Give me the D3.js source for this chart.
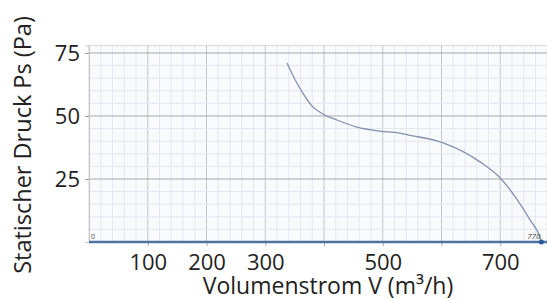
<!DOCTYPE html>
<html>
<head>
    <meta charset="UTF-8">
    <title>Kennlinie</title>
    <script src="https://d3js.org/d3.v7.min.js"></script>
    <style>
        body { margin: 0; background: #fff; }
        svg text { font-family: "Open Sans", "DejaVu Sans", sans-serif; }
    </style>
</head>
<body>
<div id="chart"></div>
<script>
    // curve data: volume flow (m3/h) and static pressure (Pa)
    var flow = [337, 351, 364, 381, 398, 422, 456, 495, 529, 541, 603, 666, 700, 729, 751, 768, 770];
    var pressure = [71, 64.3, 59.1, 53.6, 50.8, 48.4, 45.6, 44.0, 43.2, 42.6, 39.3, 31.7, 25.4, 16.7, 8.7, 1.6, 0];

    // tick labels
    var xTickLabels = [100, 200, 300, 500, 700];
    var yTickLabels = [25, 50, 75];

    var width = 547, height = 300;
    var plotLeft = 89, plotRight = 547.25, plotTop = 45.4, plotBottom = 242;
    var font = "Open Sans, DejaVu Sans, sans-serif";

    var svg = d3.select("#chart").append("svg")
        .attr("width", width)
        .attr("height", height);

    var x = d3.scaleLinear().domain([0, 780]).range([plotLeft, plotRight]);
    var y = d3.scaleLinear().domain([0, 78]).range([plotBottom, plotTop]);

    // plot background
    svg.append("rect")
        .attr("x", plotLeft).attr("y", plotTop)
        .attr("width", plotRight - plotLeft).attr("height", plotBottom - plotTop)
        .attr("fill", "#f9fafc")
        .attr("stroke", "#d6d6d6");

    // minor + major grid
    var grid = svg.append("g");
    grid.selectAll(".vx").data(d3.range(20, 780, 20)).enter().append("line")
        .attr("x1", d => x(d)).attr("x2", d => x(d))
        .attr("y1", plotTop).attr("y2", plotBottom)
        .attr("stroke", d => d % 100 === 0 ? "#c4c8cc" : "#e3e8ee")
        .attr("stroke-width", 1);
    grid.selectAll(".hy").data(d3.range(5, 78, 5)).enter().append("line")
        .attr("x1", plotLeft).attr("x2", plotRight)
        .attr("y1", d => y(d)).attr("y2", d => y(d))
        .attr("stroke", d => d % 25 === 0 ? "#a8a8a8" : "#e3e8ee")
        .attr("stroke-width", 1);

    // y axis ticks + labels
    var yAxis = d3.axisLeft(y).tickValues(yTickLabels).tickSize(4).tickPadding(5);
    var gy = svg.append("g").attr("transform", "translate(" + plotLeft + ",0)").call(yAxis);
    gy.select(".domain").attr("stroke", "#c8c8c8");
    gy.selectAll(".tick line").attr("stroke", "#999");
    gy.selectAll("text").attr("font-size", "22px").attr("fill", "#222")
        .attr("font-family", font);

    // x axis: tick marks every 100, labels only where the chart shows them
    var xTicks = svg.append("g").attr("transform", "translate(0," + plotBottom + ")")
        .call(d3.axisBottom(x).tickValues(d3.range(100, 780, 100)).tickSize(4).tickFormat(""));
    xTicks.select(".domain").remove();
    xTicks.selectAll("text").remove();
    xTicks.selectAll(".tick line").attr("stroke", "#aaa");

    var xLabels = svg.append("g").attr("transform", "translate(0," + plotBottom + ")")
        .call(d3.axisBottom(x).tickValues(xTickLabels).tickSize(0).tickPadding(12));
    xLabels.select(".domain").remove();
    xLabels.selectAll("text").attr("font-size", "22px").attr("fill", "#222")
        .attr("font-family", font);

    // blue baseline
    svg.append("line")
        .attr("x1", plotLeft).attr("x2", plotRight)
        .attr("y1", y(0)).attr("y2", y(0))
        .attr("stroke", "#4f73a0").attr("stroke-width", 2.5);

    // curve
    var points = flow.map((f, i) => [f, pressure[i]]);
    var line = d3.line()
        .x(d => x(d[0]))
        .y(d => y(d[1]))
        .curve(d3.curveMonotoneX);
    svg.append("path")
        .datum(points)
        .attr("d", line)
        .attr("fill", "none")
        .attr("stroke", "#8391b0")
        .attr("stroke-width", 1.3);

    // end marker
    svg.append("circle")
        .attr("cx", x(flow[flow.length - 1]))
        .attr("cy", y(0))
        .attr("r", 2.5)
        .attr("fill", "#2c5a9a");

    // tiny range labels
    svg.append("text")
        .attr("x", x(0) + 2).attr("y", y(0) - 3)
        .attr("font-size", "7px").attr("fill", "#555")
        .text("0");
    svg.append("text")
        .attr("x", x(flow[flow.length - 1]) - 1).attr("y", y(0) - 3)
        .attr("text-anchor", "end")
        .attr("font-size", "8px").attr("font-style", "italic").attr("fill", "#444")
        .text(flow[flow.length - 1]);

    // axis titles
    svg.append("text")
        .attr("x", 328).attr("y", 294)
        .attr("text-anchor", "middle")
        .attr("font-size", "23px").attr("fill", "#222")
        .text("Volumenstrom V (m³/h)");
    svg.append("text")
        .attr("transform", "translate(31,145) rotate(-90)")
        .attr("text-anchor", "middle")
        .attr("font-size", "23.5px").attr("fill", "#222")
        .text("Statischer Druck Ps (Pa)");
</script>
</body>
</html>
